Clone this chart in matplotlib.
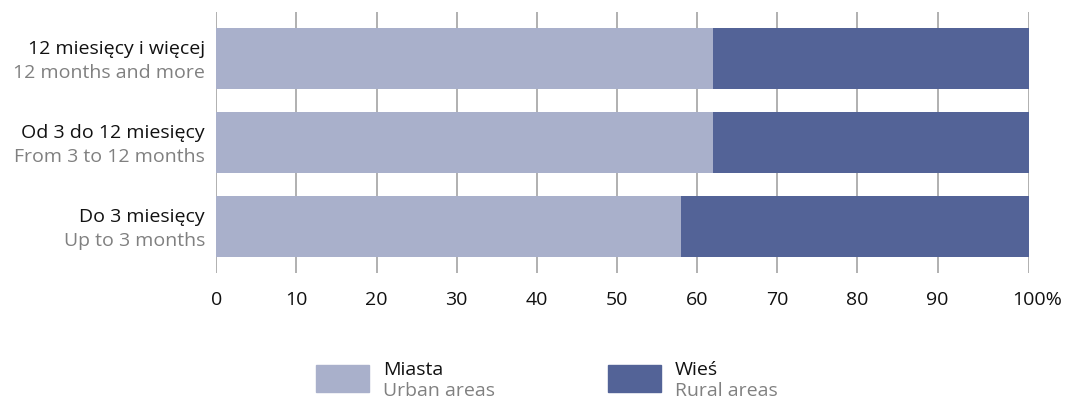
import numpy as np
import matplotlib
matplotlib.use("Agg")
import matplotlib.pyplot as plt
from matplotlib.patches import Rectangle
from matplotlib.transforms import blended_transform_factory, ScaledTranslation

plt.rcParams['font.family'] = ['Open Sans', 'DejaVu Sans']

categories_pl = ["12 miesięcy i więcej", "Od 3 do 12 miesięcy", "Do 3 miesięcy"]
categories_en = ["12 months and more", "From 3 to 12 months", "Up to 3 months"]
urban = [62, 62, 58]
rural = [38, 38, 42]
xticks = [0, 10, 20, 30, 40, 50, 60, 70, 80, 90, 100]
xticklabels = ["0", "10", "20", "30", "40", "50", "60", "70", "80", "90", "100%"]
series_pl = ["Miasta", "Wieś"]
series_en = ["Urban areas", "Rural areas"]

c_urban = "#a9b0cb"
c_rural = "#536397"
c_grid = "#a3a3a3"
c_gray = "#808080"
c_text = "#111111"
FS = 14

W, H = 1065, 398
fig = plt.figure(figsize=(W / 100, H / 100), dpi=100)
ax = fig.add_axes([216.3 / W, 1 - 273 / H, (1028.7 - 216.3) / W, (273 - 12) / H])

# the source chart stretches the last interval (90-100%) slightly
k = 91 / 80.0
def fwd(x):
    x = np.asarray(x, dtype=float)
    return np.where(x <= 90, x, 90 + (x - 90) * k)
def inv(y):
    y = np.asarray(y, dtype=float)
    return np.where(y <= 90, y, 90 + (y - 90) / k)
ax.set_xscale('function', functions=(fwd, inv))

ypos = [0, 1, 2]
bh = 61 / 84
ax.barh(ypos, urban, height=bh, color=c_urban, zorder=2)
ax.barh(ypos, rural, left=urban, height=bh, color=c_rural, zorder=2)

ax.set_xlim(0, 100)
ax.set_ylim(2 + 0.5536, -0.5536)
ax.set_xticks(xticks)
ax.set_xticklabels(xticklabels, fontsize=FS, color=c_text)
ax.xaxis.set_minor_locator(matplotlib.ticker.NullLocator())
ax.tick_params(axis='x', length=0, pad=13)
lab = ax.get_xticklabels()[-1]
lab.set_transform(lab.get_transform() + ScaledTranslation(8 / 100, 0, fig.dpi_scale_trans))
ax.set_yticks([])
for x in xticks:
    ax.axvline(x, color=c_grid, lw=1.2, zorder=1)
for s in ax.spines.values():
    s.set_visible(False)

trans = blended_transform_factory(fig.transFigure, ax.transData)
for i, (pl, en) in enumerate(zip(categories_pl, categories_en)):
    ax.text(205 / W, ypos[i] - 0.05, pl, transform=trans, ha='right', va='baseline',
            fontsize=FS, color=c_text)
    ax.text(205 / W, ypos[i] + 0.232, en, transform=trans, ha='right', va='baseline',
            fontsize=FS, color=c_gray)

# legend
leg_x = [316, 608]
colors = [c_urban, c_rural]
for lx, col, pl, en in zip(leg_x, colors, series_pl, series_en):
    fig.patches.append(Rectangle((lx / W, 1 - 391.5 / H), 53 / W, 26.5 / H,
                                 transform=fig.transFigure, color=col))
    fig.text((lx + 67) / W, 1 - 375 / H, pl, ha='left', va='baseline', fontsize=FS, color=c_text)
    fig.text((lx + 67) / W, 1 - 396 / H, en, ha='left', va='baseline', fontsize=FS, color=c_gray)

fig.savefig("out.png", dpi=100)
